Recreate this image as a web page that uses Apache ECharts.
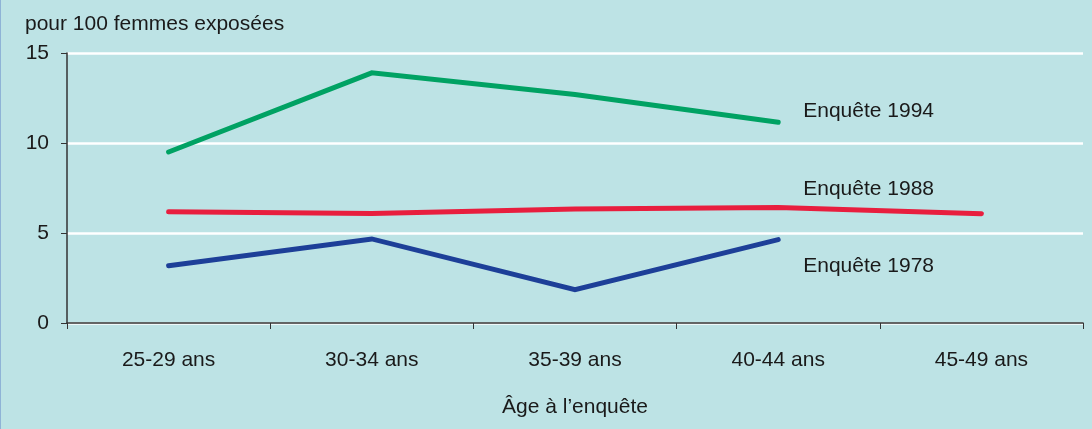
<!DOCTYPE html>
<html>
<head>
<meta charset="utf-8">
<script src="https://cdn.jsdelivr.net/npm/echarts@6/dist/echarts.min.js"></script>
<style>
html,body{margin:0;padding:0;background:#bde3e5;}
#c{width:1092px;height:429px;}
</style>
</head>
<body>
<div id="c"></div>
<script>
const categories = ['25-29 ans', '30-34 ans', '35-39 ans', '40-44 ans', '45-49 ans'];
const enquete1994 = [9.5, 13.9, 12.7, 11.15, null];
const enquete1988 = [6.18, 6.09, 6.33, 6.42, 6.07];
const enquete1978 = [3.18, 4.67, 1.85, 4.63, null];
const seriesNames = ['Enquête 1994', 'Enquête 1988', 'Enquête 1978'];
const yTicks = [0, 5, 10, 15];

const FONT = 'Liberation Sans';
const chart = echarts.init(document.getElementById('c'));

function withLabel(values, idx, offset) {
  return values.map((v, i) => i === idx ? {
    value: v,
    label: {show: true, position: 'right', distance: 5, offset: offset,
      formatter: '{a}', color: '#1a1a1a', fontFamily: FONT, fontSize: 21}
  } : v);
}

function lineSeries(name, values, offset, color) {
  return {
    name: name, type: 'line', data: withLabel(values, 3, offset),
    symbol: 'circle', symbolSize: 0, showSymbol: true,
    itemStyle: {color: color},
    lineStyle: {color: color, width: 5, cap: 'round', join: 'miter'},
    color: color
  };
}

chart.setOption({
  backgroundColor: '#bde3e5',
  animation: false,
  title: {
    text: 'pour 100 femmes exposées',
    left: 20, top: 9,
    textStyle: {fontFamily: FONT, fontSize: 21, fontWeight: 'normal', color: '#1a1a1a'}
  },
  graphic: [{type: 'rect', left: 0, top: 0, shape: {width: 1, height: 429}, style: {fill: '#8fb3d6'}}],
  grid: {left: 67, right: 9, top: 53, bottom: 106},
  xAxis: {
    type: 'category',
    data: categories,
    boundaryGap: true,
    name: 'Âge à l’enquête',
    nameLocation: 'middle',
    nameGap: 74,
    nameTextStyle: {fontFamily: FONT, fontSize: 21, color: '#1a1a1a'},
    axisLine: {lineStyle: {color: '#333', width: 1.5}},
    axisTick: {show: true, length: 6, lineStyle: {color: '#333'}},
    axisLabel: {fontFamily: FONT, fontSize: 21, color: '#1a1a1a', margin: 27},
    splitLine: {show: false}
  },
  yAxis: {
    type: 'value',
    min: 0, max: 15, interval: 5,
    axisLine: {show: true, lineStyle: {color: '#333', width: 1.5}},
    axisTick: {show: true, length: 6, lineStyle: {color: '#333'}},
    axisLabel: {fontFamily: FONT, fontSize: 21, color: '#1a1a1a', margin: 18,
      formatter: v => yTicks.includes(v) ? String(v) : ''},
    splitLine: {show: true, lineStyle: {color: '#ffffff', width: 2.5}}
  },
  series: [
    lineSeries(seriesNames[0], enquete1994, [20, -11], '#00a263'),
    lineSeries(seriesNames[1], enquete1988, [20, -18], '#e81e3e'),
    lineSeries(seriesNames[2], enquete1978, [20, 27], '#1d3f98')
  ]
});
</script>
</body>
</html>
